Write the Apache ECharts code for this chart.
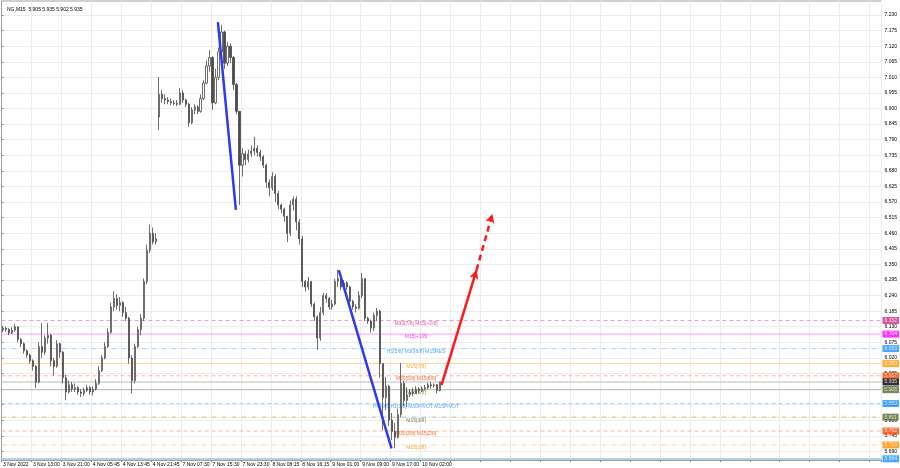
<!DOCTYPE html>
<html><head><meta charset="utf-8">
<script src="https://cdn.jsdelivr.net/npm/echarts@6/dist/echarts.min.js"></script>
<style>html,body{margin:0;padding:0;background:#fff}#c{width:900px;height:468px}</style>
</head><body><div id="c"></div>
<script>
const headerText = 'NG,M15  5.905 5.935 5.902 5.935';
const xLabels = ['3 Nov 2022','3 Nov 13:00','3 Nov 21:00','4 Nov 05:45','4 Nov 13:45','4 Nov 21:45','7 Nov 07:30','7 Nov 15:30','7 Nov 23:30','8 Nov 08:15','8 Nov 16:15','9 Nov 01:00','9 Nov 09:00','9 Nov 17:00','10 Nov 02:00'];
const yTicks = [5.690,5.745,5.800,5.855,5.910,5.965,6.020,6.075,6.130,6.185,6.240,6.295,6.350,6.405,6.460,6.515,6.570,6.625,6.680,6.735,6.790,6.845,6.900,6.955,7.010,7.065,7.120,7.175,7.230];
const sessionOpens = {0: 6.118, 52: 6.870};
const closes = [
6.125,6.120,6.108,6.118,6.130,6.085,6.070,6.045,6.030,6.010,
5.990,5.935,6.060,6.040,6.090,6.100,6.010,5.990,6.070,6.040,
5.950,5.900,5.925,5.910,5.915,5.900,5.895,5.905,5.915,5.900,
5.910,5.930,5.975,6.020,6.060,6.110,6.200,6.230,6.205,6.215,
6.180,6.160,6.020,5.940,6.060,6.120,6.160,6.290,6.400,6.460,
6.430,6.440,6.950,6.935,6.930,6.925,6.920,6.918,6.915,6.955,
6.930,6.915,6.850,6.895,6.905,6.890,6.935,6.990,7.050,7.080,
6.920,7.010,7.100,7.170,7.060,7.120,7.080,6.985,6.890,6.700,
6.740,6.720,6.740,6.750,6.760,6.745,6.730,6.700,6.640,6.620,
6.660,6.600,6.560,6.545,6.520,6.460,6.560,6.580,6.500,6.440,
6.290,6.270,6.290,6.210,6.165,6.090,6.180,6.240,6.230,6.200,
6.210,6.290,6.300,6.270,6.285,6.270,6.220,6.200,6.195,6.240,
6.300,6.160,6.150,6.125,6.170,6.185,6.000,5.880,5.920,5.800,
5.760,5.740,5.820,5.930,5.870,5.890,5.900,5.895,5.910,5.905,
5.912,5.915,5.925,5.922,5.925,5.905,5.935];
const lows = [
6.110,6.112,6.100,6.104,6.112,6.075,6.058,6.035,6.020,6.000,
5.975,5.914,5.930,6.020,6.030,6.070,5.990,5.958,5.985,6.020,
5.930,5.871,5.895,5.900,5.900,5.890,5.882,5.885,5.900,5.890,
5.888,5.905,5.925,5.970,6.015,6.055,6.105,6.185,6.190,6.185,
6.165,6.150,6.000,5.895,5.930,6.055,6.100,6.150,6.280,6.390,
6.420,6.420,6.824,6.920,6.915,6.915,6.912,6.910,6.908,6.912,
6.920,6.905,6.835,6.845,6.880,6.880,6.885,6.930,6.985,7.030,
6.895,6.915,7.000,7.090,7.040,7.050,7.060,6.965,6.880,6.560,
6.660,6.700,6.710,6.730,6.735,6.730,6.715,6.690,6.620,6.590,
6.610,6.570,6.545,6.530,6.500,6.429,6.450,6.540,6.470,6.420,
6.270,6.255,6.260,6.200,6.150,6.048,6.080,6.170,6.215,6.190,
6.190,6.205,6.270,6.260,6.265,6.260,6.205,6.190,6.180,6.190,
6.230,6.150,6.140,6.110,6.115,6.150,5.950,5.765,5.836,5.780,
5.730,5.701,5.735,5.810,5.850,5.847,5.882,5.885,5.893,5.896,
5.900,5.905,5.910,5.912,5.915,5.895,5.902];
const highs = [
6.130,6.130,6.125,6.128,6.140,6.130,6.090,6.075,6.050,6.035,
6.015,5.995,6.075,6.143,6.100,6.143,6.105,6.020,6.083,6.075,
6.045,5.960,5.940,5.935,5.930,5.920,5.910,5.915,5.925,5.920,
5.920,5.945,5.990,6.030,6.075,6.125,6.215,6.255,6.245,6.235,
6.220,6.200,6.165,6.030,6.070,6.130,6.175,6.300,6.420,6.490,
6.480,6.460,7.011,6.965,6.950,6.940,6.935,6.930,6.930,6.972,
6.965,6.935,6.920,6.905,6.915,6.912,6.950,7.000,7.070,7.106,
7.085,7.040,7.115,7.195,7.175,7.135,7.130,7.085,6.990,6.890,
6.760,6.750,6.755,6.770,6.800,6.770,6.755,6.735,6.705,6.650,
6.675,6.668,6.610,6.565,6.550,6.520,6.575,6.590,6.590,6.510,
6.450,6.295,6.306,6.290,6.215,6.170,6.200,6.250,6.249,6.235,
6.225,6.300,6.330,6.300,6.295,6.290,6.275,6.225,6.210,6.255,
6.320,6.300,6.165,6.155,6.180,6.196,6.190,6.000,5.953,5.925,
5.826,5.790,5.840,6.002,5.940,5.917,5.910,5.915,5.920,5.917,
5.920,5.925,5.932,5.935,5.930,5.928,5.935];
const levels = [6.152,6.104,6.053,6.000,5.957,5.935,5.908,5.859,5.811,5.762,5.713,5.664];
const levelNames = ['M30[7/8] M15[+2/8]','M15[+1/8]','H1[5/8] M30[6/8] M15RES','M15[7/8]','M30[5/8] M15[6/8]','','M15[5/8]','H4[4/8] H1[3/8] M30PIVOT M15PIVOT','M15[3/8]','M30[3/8] M15[2/8]','M15[1/8]',''];
const trendLines = [[[72.3,7.205],[78.3,6.542]],[[112.7,6.330],[130.3,5.701]]];
const projectionSolid = [[147.0,5.924],[158.7,6.330]];
const projectionDashed = [[158.7,6.330],[164.0,6.528]];

const NCAT = 294;
const levelColors = ['#d02a8c','#ff00ff','#1e90ff','#ff9900','#ff4500','#000000','#556b2f','#1e90ff','#556b2f','#ff4500','#ff8c00','#1e90ff'];
const lineColors  = ['#f29ccd','#ff9cff','#a8d2f7','#ffd699','#ffb3a3','#b8b8b8','#b4b9a6','#a8d2f7','#b8b8a8','#ffb3a3','#ffd299','#8cc0f2'];
const lineTypes   = [[4,3],'solid',[5,2,1,2],'solid',[4,3],'solid','solid',[4,3],[5,2,1,2],[4,3],[5,2,1,2],'solid'];

const cats = [];
for (let i = 0; i < NCAT; i++) cats.push(String(i));
const candles = closes.map((c, i) => {
  const o = (i in sessionOpens) ? sessionOpens[i] : closes[i - 1];
  return [o, c, lows[i], highs[i]];
});
const FONT = 'Liberation Sans';

const levelSeries = levels.map((v, i) => ({
  type: 'line', xAxisIndex: 1, silent: true, z: 1, symbol: 'none', clip: false,
  data: [[0, v], [NCAT, v]],
  lineStyle: {color: lineColors[i], type: lineTypes[i], width: 1}
}));

const chart = echarts.init(document.getElementById('c'), null, {renderer: 'canvas'});
chart.setOption({
  animation: false,
  backgroundColor: '#ffffff',
  title: {text: headerText, left: 2, top: 2, textStyle: {fontSize: 5, fontWeight: 'normal', color: '#000', fontFamily: FONT}},
  grid: {left: 1, right: 18, top: 1, bottom: 8, show: true, borderColor: '#a0a0a0', borderWidth: 1, backgroundColor: '#fff'},
  xAxis: [{
    type: 'category', data: cats, boundaryGap: true,
    axisLine: {show: true, lineStyle: {color: '#a0a0a0'}},
    axisTick: {show: true, interval: 9, length: 2, lineStyle: {color: '#888'}},
    axisLabel: {interval: 9, margin: 2, align: 'left', fontSize: 5, color: '#000', fontFamily: FONT,
      formatter: (v, idx) => (idx % 10 === 0 && xLabels[idx / 10]) ? xLabels[idx / 10] : ''},
    splitLine: {show: true, interval: 9, lineStyle: {color: '#ececec', width: 1}}
  }, {
    type: 'value', min: 0, max: NCAT, show: false
  }],
  yAxis: {
    type: 'value', position: 'right', min: 5.6598, max: 7.2794, scale: true,
    axisLine: {show: true, lineStyle: {color: '#a0a0a0'}},
    axisTick: {show: true, length: 2, customValues: yTicks, lineStyle: {color: '#888'}},
    axisLabel: {customValues: yTicks, margin: 3, fontSize: 5, color: '#000', fontFamily: FONT, formatter: v => v.toFixed(3)},
    splitLine: {show: true, lineStyle: {color: '#ececec', width: 1}}
  },
  series: [...levelSeries, {
    type: 'candlestick', data: candles, barWidth: 1.6, z: 3,
    itemStyle: {color: '#ffffff', color0: '#4a4a4a', borderColor: '#4a4a4a', borderColor0: '#4a4a4a', borderWidth: 0.8}
  }, {
    type: 'scatter', xAxisIndex: 1, symbolSize: 0, silent: true, z: 2,
    data: levels.map((v, i) => ({value: [138.5, v], label: {color: levelColors[i]}})).filter((d, i) => levelNames[i]),
    label: {show: true, position: 'inside', offset: [0, 3], fontSize: 5, fontFamily: FONT,
      formatter: p => levelNames[levels.indexOf(p.value[1])]}
  }, {
    type: 'scatter', xAxisIndex: 1, symbolSize: 0, silent: true, z: 8, clip: false,
    data: levels.map((v, i) => ({value: [NCAT, v], label: {backgroundColor: levelColors[i]}})),
    label: {show: true, position: 'right', distance: 1, fontSize: 5, fontFamily: FONT, color: '#fff',
      padding: [1, 2, 1, 2], formatter: p => p.value[1].toFixed(3)}
  }, {
    type: 'line', xAxisIndex: 1, data: [], silent: true, z: 6,
    markLine: {silent: true, symbol: ['none', 'none'], animation: false,
      lineStyle: {color: '#2b3cf0', width: 2.5, type: 'solid'}, label: {show: false},
      data: trendLines.map(seg => [{coord: seg[0]}, {coord: seg[1]}])}
  }, {
    type: 'line', xAxisIndex: 1, data: [], silent: true, z: 6,
    markLine: {silent: true, symbol: ['none', 'arrow'], symbolSize: [7, 9], animation: false,
      label: {show: false},
      data: [
        [{coord: projectionSolid[0]}, {coord: projectionSolid[1], lineStyle: {color: '#ff1a1a', width: 2.5, type: 'solid'}}],
        [{coord: projectionDashed[0]}, {coord: projectionDashed[1], lineStyle: {color: '#ff1a1a', width: 2.5, type: [6, 4]}}]
      ].map(d => { d[0].lineStyle = d[1].lineStyle; return d; })}
  }]
});
</script>
</body></html>
